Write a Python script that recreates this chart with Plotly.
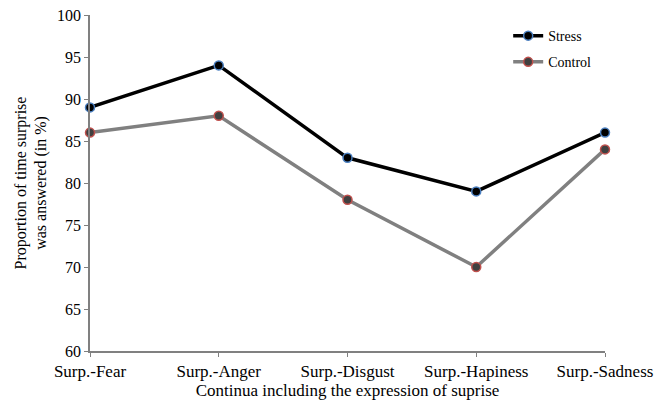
import plotly.graph_objects as go

categories = ["Surp.-Fear", "Surp.-Anger", "Surp.-Disgust", "Surp.-Hapiness", "Surp.-Sadness"]
stress = [89, 94, 83, 79, 86]
control = [86, 88, 78, 70, 84]
y_ticks = [60, 65, 70, 75, 80, 85, 90, 95, 100]

font = "Liberation Serif, Times New Roman, serif"

fig = go.Figure()
fig.add_trace(go.Scatter(
    x=list(range(len(categories))), y=stress, name="Stress", mode="lines+markers",
    line=dict(color="black", width=3.5), legendgroup="a",
    marker=dict(size=9, color="black", line=dict(color="#4a7fc0", width=1.5)),
    cliponaxis=False,
))
fig.add_trace(go.Scatter(
    x=list(range(len(categories))), y=control, name="Control", mode="lines+markers",
    line=dict(color="#808080", width=3.5), legendgroup="b",
    marker=dict(size=9, color="#404040", line=dict(color="#c0504d", width=1.5)),
    cliponaxis=False,
))

fig.update_layout(
    width=654, height=403,
    margin=dict(l=90, r=49, t=15, b=52),
    paper_bgcolor="white", plot_bgcolor="white",
    font=dict(family=font, size=16, color="black"),
    showlegend=True,
    legend=dict(x=0.812, y=0.985, xanchor="left", yanchor="top",
                font=dict(family=font, size=14, color="black"),
                bgcolor="rgba(0,0,0,0)", tracegroupgap=5, itemwidth=30),
    xaxis=dict(
        range=[0, 4], tickmode="array", tickvals=list(range(len(categories))),
        ticktext=categories, showgrid=False, zeroline=False, automargin=False,
        showline=True, linecolor="#808080", linewidth=1.5,
        ticks="outside", ticklen=4, tickcolor="#808080",
        tickfont=dict(family=font, size=17), ticklabeloverflow="allow",
        title=dict(text="Continua including the expression of suprise", standoff=1,
                   font=dict(family=font, size=17)),
    ),
    yaxis=dict(
        range=[60, 100], tickmode="array", tickvals=y_ticks,
        showgrid=False, zeroline=False, automargin=False,
        showline=True, linecolor="#808080", linewidth=1.5,
        ticks="outside", ticklen=4, tickcolor="#808080",
        tickfont=dict(family=font, size=16), ticklabeloverflow="allow",
        title=dict(text="Proportion of time surprise<br>was answered (in %)", standoff=6,
                   font=dict(family=font, size=16)),
    ),
)

# remove the default page margin so the figure sits at the window's top-left corner
fig.write_html("out.html", config={"displayModeBar": False},
               post_script="document.body.style.margin='0px';")
